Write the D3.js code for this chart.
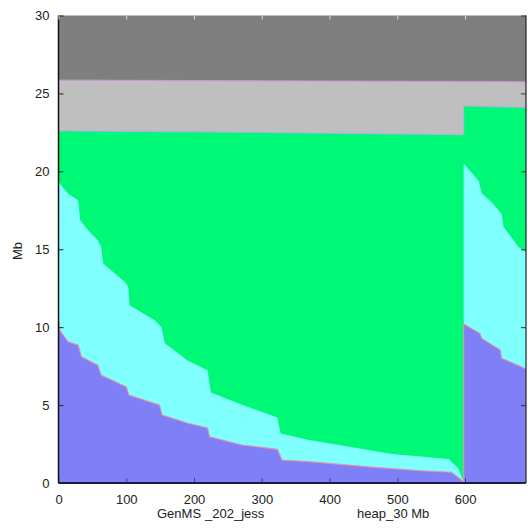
<!DOCTYPE html>
<html>
<head>
<meta charset="utf-8">
<script src="https://cdn.jsdelivr.net/npm/d3@7"></script>
<style>
  html, body { margin: 0; padding: 0; background: #ffffff; }
  svg { display: block; }
  text { font-family: "Liberation Sans Narrow", "Liberation Sans", Arial, sans-serif; fill: #222; }
</style>
</head>
<body>
<svg id="chart" width="528" height="531"></svg>
<script>
// Cumulative heap occupancy (Mb) over time, one array per stacked band top.
const xTicks = [0, 100, 200, 300, 400, 500, 600];
const yTicks = [0, 5, 10, 15, 20, 25, 30];

// bottom band (blue)
const blueTop = [
  [0, 10.6], [2, 9.8], [14, 9.06], [29, 8.85], [34, 8.1], [58, 7.56], [63, 6.92],
  [100, 6.17], [104, 5.64], [149, 5.0], [153, 4.36], [190, 3.85], [220, 3.53],
  [223, 2.97], [271, 2.44], [323, 2.16], [330, 1.47], [370, 1.37], [458, 1.04],
  [532, 0.79], [580, 0.69], [595, 0.19], [598, 0],
  [598, 10.2], [622, 9.6], [625, 9.28], [652, 8.53], [654, 8.0], [683, 7.46], [690, 7.3]
];
// second band (cyan)
const cyanTop = [
  [0, 19.5], [2, 19.2], [14, 18.57], [29, 18.14], [32, 16.86], [44, 16.2], [58, 15.58],
  [63, 15.15], [66, 14.08], [98, 12.9], [103, 12.58], [105, 11.4], [142, 10.45],
  [152, 10.0], [157, 8.96], [190, 7.88], [220, 7.24], [225, 5.8], [272, 5.0],
  [323, 4.21], [328, 3.18], [370, 2.76], [458, 2.12], [492, 1.86], [576, 1.54],
  [590, 0.94], [597, 0.2], [598, 0],
  [598, 20.5], [620, 19.4], [625, 18.57], [639, 18.03], [654, 17.3], [657, 16.43],
  [679, 15.15], [690, 14.8]
];
// third band (green)
const greenTop = [[0, 22.6], [300, 22.5], [598, 22.35], [598, 24.2], [690, 24.1]];
// fourth band (light gray)
const lightTop = [[0, 25.85], [690, 25.75]];
// top band (dark gray)
const darkTop = [[0, 30], [690, 30]];

const bands = [
  { top: darkTop,  fill: "#7f7f7f", edge: null },
  { top: lightTop, fill: "#bfbfbf", edge: "#c89ad0" },
  { top: greenTop, fill: "#00f877", edge: "#a8b4e8" },
  { top: cyanTop,  fill: "#80ffff", edge: null },
  { top: blueTop,  fill: "#7f7ff8", edge: "#e890a0" }
];

const W = 528, H = 531;
const margin = { left: 58.5, right: 2, top: 15.5, bottom: 48 };

const svg = d3.select("#chart");
const x = d3.scaleLinear().domain([0, 690]).range([margin.left, W - margin.right]);
const y = d3.scaleLinear().domain([0, 30]).range([H - margin.bottom, margin.top]);

const area = d3.area()
  .x(d => x(d[0]))
  .y0(y(0))
  .y1(d => y(d[1]));
const line = d3.line().x(d => x(d[0])).y(d => y(d[1]));

const plot = svg.append("g");
bands.forEach(b => {
  plot.append("path").attr("d", area(b.top)).attr("fill", b.fill);
});
bands.forEach(b => {
  if (!b.edge) return;
  plot.append("path").attr("d", line(b.top))
    .attr("fill", "none").attr("stroke", b.edge).attr("stroke-width", 1.2)
    .attr("opacity", 0.9);
});

// Frame
const x0 = x(0), x1 = x(690), yb = y(0), yt = y(30);
svg.append("line").attr("x1", x0).attr("x2", x0).attr("y1", yt).attr("y2", yb)
  .attr("stroke", "#111").attr("stroke-width", 1.5);
svg.append("line").attr("x1", x0).attr("x2", x1).attr("y1", yb).attr("y2", yb)
  .attr("stroke", "#1c1c44").attr("stroke-width", 2);
svg.append("line").attr("x1", x1).attr("x2", x1).attr("y1", yt).attr("y2", yb)
  .attr("stroke", "#222").attr("stroke-width", 1.2);

// Axes (inward ticks) with D3 axis generators
const yAxisL = d3.axisLeft(y).tickValues(yTicks).tickSize(-5).tickPadding(9);
const gy = svg.append("g").attr("transform", `translate(${x0},0)`).call(yAxisL);
gy.select(".domain").remove();
gy.selectAll(".tick line").attr("stroke", "#222");
gy.selectAll(".tick text").attr("font-size", 13).attr("fill", "#222")
  .style("font-family", "'Liberation Sans Narrow','Liberation Sans',Arial,sans-serif");

const yAxisR = d3.axisRight(y).tickValues(yTicks).tickSize(-5).tickFormat("");
const gyr = svg.append("g").attr("transform", `translate(${x1},0)`).call(yAxisR);
gyr.select(".domain").remove();
gyr.selectAll(".tick line").attr("stroke", "#333");

const xAxisB = d3.axisBottom(x).tickValues(xTicks).tickSize(-5).tickPadding(12);
const gx = svg.append("g").attr("transform", `translate(0,${yb})`).call(xAxisB);
gx.select(".domain").remove();
gx.selectAll(".tick line").attr("stroke", "#2a2a5a").attr("opacity", 0.7);
gx.selectAll(".tick text").attr("font-size", 13).attr("fill", "#222")
  .style("font-family", "'Liberation Sans Narrow','Liberation Sans',Arial,sans-serif");

const xAxisT = d3.axisTop(x).tickValues(xTicks).tickSize(-4).tickFormat("");
const gxt = svg.append("g").attr("transform", `translate(0,${yt})`).call(xAxisT);
gxt.select(".domain").remove();
gxt.selectAll(".tick line").attr("stroke", "#d8d8d8");

// Titles
svg.append("text").attr("transform", "translate(22,251) rotate(-90)")
  .attr("text-anchor", "middle").attr("font-size", 13).text("Mb");
svg.append("text").attr("x", 157).attr("y", 518).attr("font-size", 13).text("GenMS");
svg.append("text").attr("x", 205).attr("y", 518).attr("font-size", 13).text("_202_jess");
svg.append("text").attr("x", 357).attr("y", 518).attr("font-size", 13).text("heap_30 Mb");
</script>
</body>
</html>
